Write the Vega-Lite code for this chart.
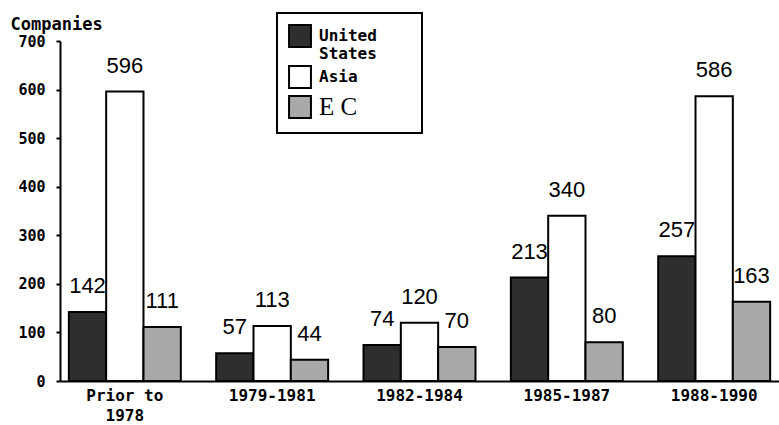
{
  "$schema": "https://vega.github.io/schema/vega-lite/v6.json",
  "autosize": {"type": "none"},
  "width": 719,
  "height": 340,
  "padding": {"left": 60, "top": 41, "right": 0, "bottom": 44},
  "background": "white",
  "config": {"view": {"stroke": null}},
  "data": {"values": [
    {"period": "Prior to 1978", "region": "United States", "count": 142},
    {"period": "Prior to 1978", "region": "Asia", "count": 596},
    {"period": "Prior to 1978", "region": "EC", "count": 111},
    {"period": "1979-1981", "region": "United States", "count": 57},
    {"period": "1979-1981", "region": "Asia", "count": 113},
    {"period": "1979-1981", "region": "EC", "count": 44},
    {"period": "1982-1984", "region": "United States", "count": 74},
    {"period": "1982-1984", "region": "Asia", "count": 120},
    {"period": "1982-1984", "region": "EC", "count": 70},
    {"period": "1985-1987", "region": "United States", "count": 213},
    {"period": "1985-1987", "region": "Asia", "count": 340},
    {"period": "1985-1987", "region": "EC", "count": 80},
    {"period": "1988-1990", "region": "United States", "count": 257},
    {"period": "1988-1990", "region": "Asia", "count": 586},
    {"period": "1988-1990", "region": "EC", "count": 163}
  ]},
  "encoding": {
    "x": {
      "field": "period", "type": "nominal",
      "sort": ["Prior to 1978", "1979-1981", "1982-1984", "1985-1987", "1988-1990"],
      "scale": {"paddingInner": 0.24, "paddingOuter": 0.06},
      "axis": {
        "title": null, "labelAngle": 0, "ticks": false,
        "domainColor": "black", "domainWidth": 2,
        "labelFont": "DejaVu Sans Mono", "labelFontWeight": "bold", "labelFontSize": 16,
        "labelColor": "black", "labelPadding": 6, "labelLineHeight": 20, "labelBaseline": "top",
        "labelExpr": "datum.label == 'Prior to 1978' ? ['Prior to', '1978'] : datum.label",
        "encode": {"labels": {"update": {"dy": {"signal": "datum.value == 'Prior to 1978' ? 0 : 8"}}}}
      }
    },
    "xOffset": {
      "field": "region", "type": "nominal",
      "sort": ["United States", "Asia", "EC"],
      "scale": {"paddingInner": 0}
    },
    "y": {
      "field": "count", "type": "quantitative",
      "scale": {"domain": [0, 700], "nice": false},
      "axis": {
        "values": [0, 100, 200, 300, 400, 500, 600, 700],
        "grid": false, "domainColor": "black", "domainWidth": 2,
        "tickColor": "black", "tickSize": 4, "tickWidth": 2,
        "labelFont": "DejaVu Sans Mono", "labelFontWeight": "bold", "labelFontSize": 15,
        "labelColor": "black", "labelPadding": 11,
        "title": "Companies", "titleAngle": 0, "titleAlign": "left", "titleBaseline": "alphabetic",
        "titleX": -50, "titleY": -12,
        "titleFont": "DejaVu Sans Mono", "titleFontWeight": "bold", "titleFontSize": 17, "titleColor": "black"
      }
    }
  },
  "layer": [
    {
      "mark": {"type": "bar", "stroke": "black", "strokeWidth": 2, "opacity": 1},
      "encoding": {
        "color": {
          "field": "region", "type": "nominal",
          "scale": {"domain": ["United States", "Asia", "EC"], "range": ["#2e2e2e", "#ffffff", "#a9a9a9"]},
          "legend": {
            "title": "\u00a0", "titleOrient": "right", "titlePadding": 34, "titleFontSize": 10,
            "orient": "none", "legendX": 217, "legendY": -28,
            "symbolType": "square", "symbolSize": 480, "symbolStrokeColor": "black", "symbolStrokeWidth": 2,
            "symbolOpacity": 1,
            "labelFont": "DejaVu Sans Mono", "labelFontWeight": "bold", "labelFontSize": 16, "labelColor": "black",
            "labelLineHeight": 13,
            "labelExpr": "datum.label == 'United States' ? ['United', '\u00a0States'] : (datum.label == 'EC' ? '\u00a0\u00a0\u00a0E C' : datum.label)",
            "rowPadding": 0, "labelOffset": 7, "labelLimit": 250,
            "strokeColor": "black", "fillColor": "white", "padding": 11,
            "encode": {
              "labels": {"update": {
                "font": {"signal": "datum.value == 'EC' ? 'Liberation Serif' : 'DejaVu Sans Mono'"},
                "fontSize": {"signal": "datum.value == 'EC' ? 25 : 16"},
                "fontWeight": {"signal": "datum.value == 'EC' ? 'normal' : 'bold'"}
              }},
              "legend": {"update": {"strokeWidth": {"value": 2}}}
            }
          }
        }
      }
    },
    {
      "mark": {"type": "text", "baseline": "bottom", "dy": -14, "font": "Liberation Sans", "fontSize": 22, "color": "black"},
      "encoding": {"text": {"field": "count", "type": "quantitative"}}
    }
  ]
}
